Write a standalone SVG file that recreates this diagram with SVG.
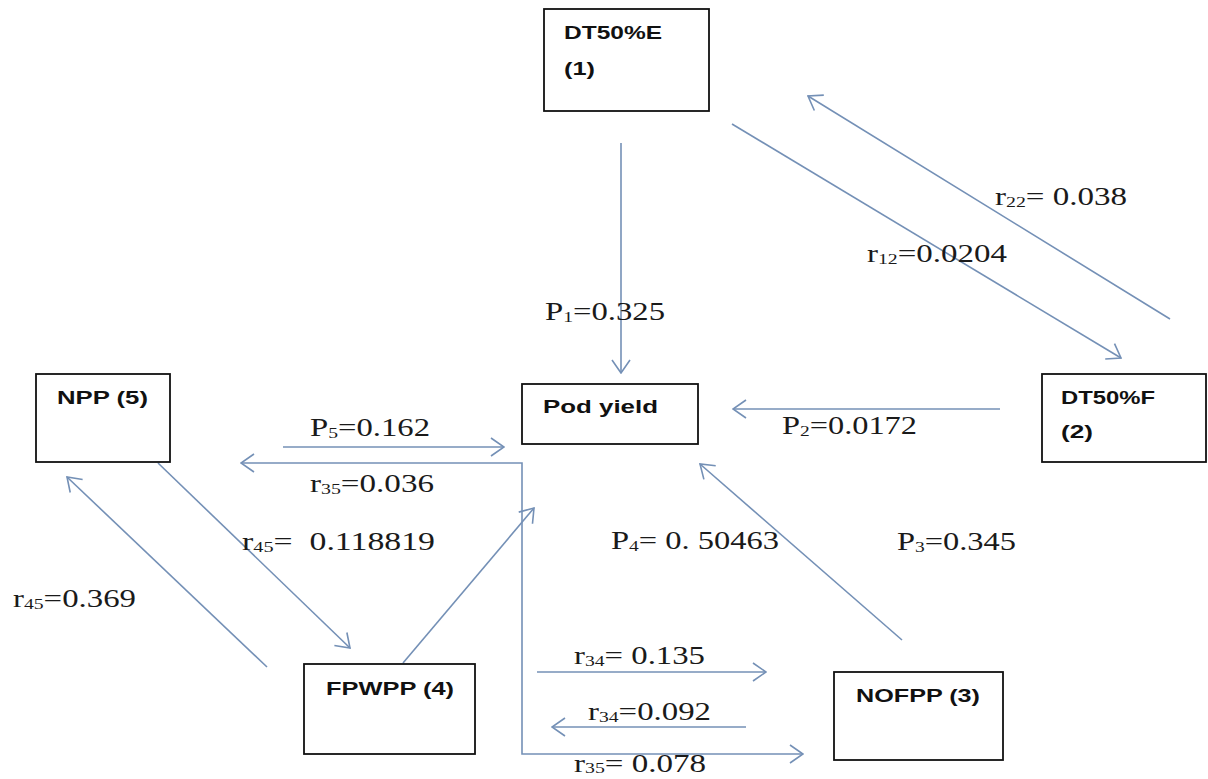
<svg xmlns="http://www.w3.org/2000/svg" width="1208" height="779" viewBox="0 0 1208 779">
<style>
.box{fill:#fff;stroke:#111;stroke-width:1.8}
.bt{font-family:"Liberation Sans",Arial,sans-serif;font-weight:bold;font-size:19px;fill:#111}
.lb{font-family:"Liberation Serif","Times New Roman",serif;font-size:25px;fill:#1a1a1a}
.sub{font-size:15px}
.cn{fill:none;stroke:#7490b6;stroke-width:1.6}
</style>
<defs>
<marker id="ah" viewBox="0 0 15 20" refX="14" refY="10" markerWidth="15" markerHeight="20" markerUnits="userSpaceOnUse" orient="auto-start-reverse">
<path d="M1,1 L14,10 L1,19" fill="none" stroke="#7490b6" stroke-width="1.6"/>
</marker>
</defs>
<rect width="1208" height="779" fill="#fff"/>

<g id="connectors">
<path class="cn" d="M621,143 L621,373" marker-end="url(#ah)"/>
<path class="cn" d="M732,124 L1121,358" marker-end="url(#ah)"/>
<path class="cn" d="M1170,319 L808,96" marker-end="url(#ah)"/>
<path class="cn" d="M1000,409 L733,409" marker-end="url(#ah)"/>
<path class="cn" d="M902,640 L700,464" marker-end="url(#ah)"/>
<path class="cn" d="M403,663 L534,508" marker-end="url(#ah)"/>
<path class="cn" d="M158,463 L350,648" marker-end="url(#ah)"/>
<path class="cn" d="M267,667 L67,477" marker-end="url(#ah)"/>
<path class="cn" d="M283,447 L504,447" marker-end="url(#ah)"/>
<path class="cn" d="M241,463 L522,463 L522,754 L803,754" marker-start="url(#ah)" marker-end="url(#ah)"/>
<path class="cn" d="M537,672 L766,672" marker-end="url(#ah)"/>
<path class="cn" d="M746,727 L552,727" marker-end="url(#ah)"/>
</g>

<g id="labels">
<text class="lb" x="545" y="320" textLength="120" lengthAdjust="spacingAndGlyphs">P<tspan class="sub" dy="2">1</tspan><tspan dy="-2">=0.325</tspan></text>
<text class="lb" x="995" y="205" textLength="132" lengthAdjust="spacingAndGlyphs">r<tspan class="sub" dy="2">22</tspan><tspan dy="-2">= 0.038</tspan></text>
<text class="lb" x="867" y="262" textLength="140" lengthAdjust="spacingAndGlyphs">r<tspan class="sub" dy="2">12</tspan><tspan dy="-2">=0.0204</tspan></text>
<text class="lb" x="782" y="434" textLength="135" lengthAdjust="spacingAndGlyphs">P<tspan class="sub" dy="2">2</tspan><tspan dy="-2">=0.0172</tspan></text>
<text class="lb" x="310" y="436" textLength="120" lengthAdjust="spacingAndGlyphs">P<tspan class="sub" dy="2">5</tspan><tspan dy="-2">=0.162</tspan></text>
<text class="lb" x="310" y="492" textLength="124" lengthAdjust="spacingAndGlyphs">r<tspan class="sub" dy="2">35</tspan><tspan dy="-2">=0.036</tspan></text>
<text class="lb" x="242" y="550" textLength="193" lengthAdjust="spacingAndGlyphs" xml:space="preserve">r<tspan class="sub" dy="2">45</tspan><tspan dy="-2">=  0.118819</tspan></text>
<text class="lb" x="13" y="607" textLength="123" lengthAdjust="spacingAndGlyphs">r<tspan class="sub" dy="2">45</tspan><tspan dy="-2">=0.369</tspan></text>
<text class="lb" x="611" y="549" textLength="168" lengthAdjust="spacingAndGlyphs">P<tspan class="sub" dy="2">4</tspan><tspan dy="-2">= 0. 50463</tspan></text>
<text class="lb" x="897" y="550" textLength="119" lengthAdjust="spacingAndGlyphs">P<tspan class="sub" dy="2">3</tspan><tspan dy="-2">=0.345</tspan></text>
<text class="lb" x="574" y="664" textLength="131" lengthAdjust="spacingAndGlyphs">r<tspan class="sub" dy="2">34</tspan><tspan dy="-2">= 0.135</tspan></text>
<text class="lb" x="588" y="720" textLength="123" lengthAdjust="spacingAndGlyphs">r<tspan class="sub" dy="2">34</tspan><tspan dy="-2">=0.092</tspan></text>
<text class="lb" x="574" y="772" textLength="132" lengthAdjust="spacingAndGlyphs">r<tspan class="sub" dy="1">35</tspan><tspan dy="-1">= 0.078</tspan></text>
</g>

<g id="node-dt50e">
<rect class="box" x="544" y="9" width="165" height="102"/>
<text class="bt" x="564" y="39" textLength="98" lengthAdjust="spacingAndGlyphs">DT50%E</text>
<text class="bt" x="564" y="75" textLength="31" lengthAdjust="spacingAndGlyphs">(1)</text>
</g>
<g id="node-dt50f">
<rect class="box" x="1042" y="374" width="164" height="88"/>
<text class="bt" x="1061" y="404" textLength="94" lengthAdjust="spacingAndGlyphs">DT50%F</text>
<text class="bt" x="1061" y="438" textLength="32" lengthAdjust="spacingAndGlyphs">(2)</text>
</g>
<g id="node-pod">
<rect class="box" x="522" y="384" width="176" height="60"/>
<text class="bt" x="543" y="413" textLength="115" lengthAdjust="spacingAndGlyphs">Pod yield</text>
</g>
<g id="node-npp">
<rect class="box" x="36" y="374" width="134" height="88"/>
<text class="bt" x="57" y="404" textLength="91" lengthAdjust="spacingAndGlyphs">NPP (5)</text>
</g>
<g id="node-fpwpp">
<rect class="box" x="304" y="664" width="171" height="90"/>
<text class="bt" x="326" y="695" textLength="128" lengthAdjust="spacingAndGlyphs">FPWPP (4)</text>
</g>
<g id="node-nofpp">
<rect class="box" x="834" y="672" width="169" height="88"/>
<text class="bt" x="856" y="702" textLength="124" lengthAdjust="spacingAndGlyphs">NOFPP (3)</text>
</g>
</svg>
